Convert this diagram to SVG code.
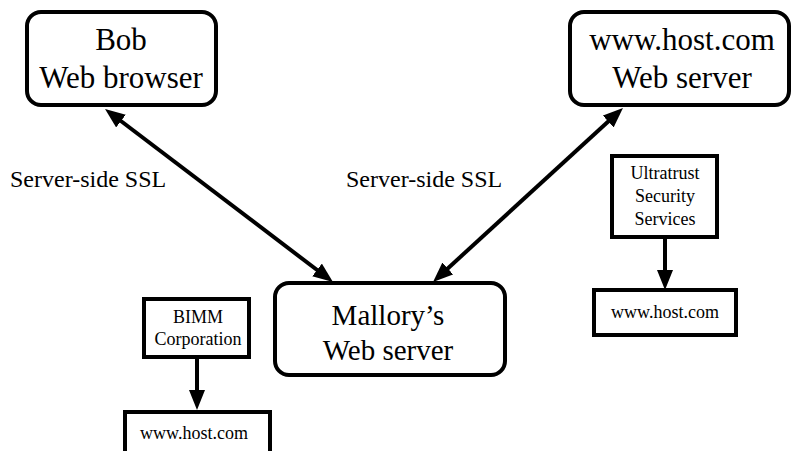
<svg xmlns="http://www.w3.org/2000/svg" width="791" height="451" viewBox="0 0 791 451" font-family="'Liberation Serif', 'Times New Roman', Times, 'DejaVu Serif', serif">
  <style>
    .box { fill: #ffffff; stroke: #000000; stroke-width: 4; }
    text { font-family: "Liberation Serif", "Times New Roman", Times, "DejaVu Serif", serif; fill: #000000; }
    .big { font-size: 31px; text-anchor: middle; }
    .mid { font-size: 24px; }
    .small { font-size: 18px; text-anchor: middle; }
    .link { fill: none; stroke: #000000; stroke-width: 4; }
  </style>
  <defs>
    <marker id="head" viewBox="0 0 20 16" refX="10" refY="8" markerWidth="20" markerHeight="16" markerUnits="userSpaceOnUse" orient="auto-start-reverse">
      <path d="M0,0 L20,8 L0,16 z" fill="#000000"/>
    </marker>
  </defs>

  <rect width="791" height="451" fill="#ffffff"/>

  <g id="connectors">
    <line class="link" x1="113" y1="115" x2="325" y2="276" marker-start="url(#head)" marker-end="url(#head)"/>
    <line class="link" x1="615.6" y1="114.8" x2="440.4" y2="275.2" marker-start="url(#head)" marker-end="url(#head)"/>
    <line class="link" x1="197" y1="357" x2="197" y2="400" marker-end="url(#head)"/>
    <line class="link" x1="665" y1="237" x2="665" y2="280" marker-end="url(#head)"/>
  </g>

  <g id="bob">
    <rect class="box" x="27" y="12" width="189" height="93" rx="14"/>
    <text class="big" x="121" y="50">Bob</text>
    <text class="big" x="121" y="88">Web browser</text>
  </g>

  <g id="host-server">
    <rect class="box" x="570" y="12" width="219" height="93" rx="14"/>
    <text class="big" x="682" y="50">www.host.com</text>
    <text class="big" x="682" y="88">Web server</text>
  </g>

  <g id="mallory">
    <rect class="box" x="275" y="283" width="230" height="92" rx="14"/>
    <text class="big" x="388" y="325" style="font-size:29px">Mallory’s</text>
    <text class="big" x="388" y="360" style="font-size:29px">Web server</text>
  </g>

  <g id="ssl-labels">
    <text class="mid" x="10" y="187">Server-side SSL</text>
    <text class="mid" x="346" y="187">Server-side SSL</text>
  </g>

  <g id="bimm">
    <rect class="box" x="144" y="299" width="105" height="58"/>
    <text class="small" x="198" y="323">BIMM</text>
    <text class="small" x="198" y="345">Corporation</text>
  </g>

  <g id="bimm-cert">
    <rect class="box" x="125" y="412" width="145" height="60"/>
    <text class="small" x="194" y="439">www.host.com</text>
  </g>

  <g id="ultratrust">
    <rect class="box" x="612" y="156" width="105" height="81"/>
    <text class="small" x="665" y="179">Ultratrust</text>
    <text class="small" x="665" y="202">Security</text>
    <text class="small" x="665" y="225">Services</text>
  </g>

  <g id="ultratrust-cert">
    <rect class="box" x="594" y="290" width="142" height="45"/>
    <text class="small" x="665" y="318">www.host.com</text>
  </g>
</svg>
